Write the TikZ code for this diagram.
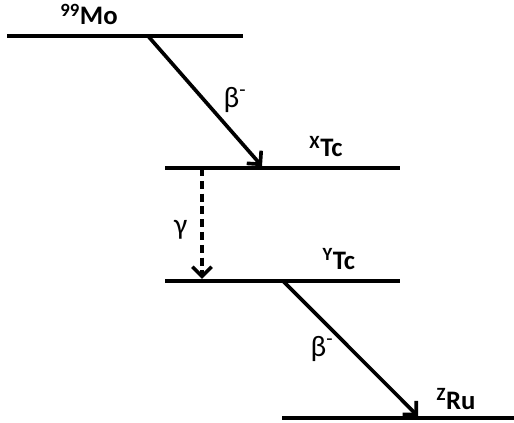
\documentclass[tikz,border=0pt]{standalone}
\usepackage{fontspec}
\setmainfont{Carlito}
\usepackage{tikz}
\usetikzlibrary{positioning}
\usetikzlibrary{arrows.meta}

\tikzset{
  level/.style={line width=2.8pt},
  decay/.style={line width=2.6pt,-{Straight Barb[length=2.4mm,width=4.8mm,line width=2.6pt]}},
  nuclide/.style={font=\fontsize{19}{22}\selectfont\bfseries,anchor=base,inner sep=0pt},
  ray/.style={font=\fontsize{21}{24}\selectfont,inner sep=0pt}
}

\begin{document}
\begin{tikzpicture}
\useasboundingbox (0,0) rectangle (12.85,10.575);
% energy levels
\coordinate (mo-a) at (0.175,9.675);
\coordinate (mo-b) at (6.075,9.675);
\coordinate (tcx-a) at (4.125,6.375);
\coordinate (tcx-b) at (10.0,6.375);
\coordinate (tcy-a) at (4.125,3.55);
\coordinate (tcy-b) at (10.0,3.55);
\coordinate (ru-a) at (7.05,0.125);
\coordinate (ru-b) at (12.85,0.125);
\draw [level] (mo-a)--(mo-b);
\draw [level] (tcx-a)--(tcx-b);
\draw [level] (tcy-a)--(tcy-b);
\draw [level] (ru-a)--(ru-b);
% labels
\node [nuclide] (mo) at (2.225,9.95) {\textsuperscript{99}Mo};
\node [nuclide] (tcx) at (8.15,6.65) {\textsuperscript{X}Tc};
\node [nuclide] (tcy) at (8.47,3.83) {\textsuperscript{Y}Tc};
\node [nuclide] (ru) at (11.4,0.33) {\textsuperscript{Z}Ru};
% transitions
\coordinate (b1-s) at (3.7,9.675);
\coordinate (b1-e) at (6.55,6.42);
\coordinate (g-s) at (5.05,6.375);
\coordinate (g-e) at (5.05,3.6);
\coordinate (b2-s) at (7.075,3.55);
\coordinate (b2-e) at (10.45,0.17);
\draw [decay] (b1-s)--(b1-e);
\draw [decay,dash pattern=on 2mm off 1.2mm] (g-s)--(g-e);
\draw [decay] (b2-s)--(b2-e);
\node [ray] (beta1) at (5.875,8.075) {β\textsuperscript{-}};
\node [ray] (gamma) at (4.52,4.82) {γ};
\node [ray] (beta2) at (8.05,1.85) {β\textsuperscript{-}};
\end{tikzpicture}
\end{document}
